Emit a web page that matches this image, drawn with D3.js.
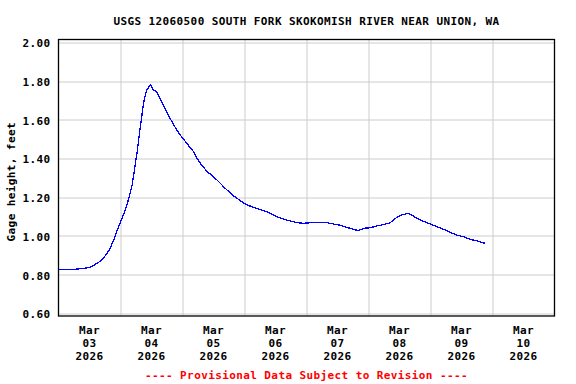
<!DOCTYPE html>
<html>
<head>
<meta charset="utf-8">
<script src="https://cdn.jsdelivr.net/npm/d3@7"></script>
<style>
  body { margin: 0; background: #fff; }
  text { font-family: "DejaVu Sans Mono", monospace; font-weight: bold; font-size: 11px; letter-spacing: 0.4px; }
</style>
</head>
<body>
<div id="chart"></div>
<script>
// hours since Mar 03 2026 00:00 and gage height (feet)
const hours = [0, 6.9, 12.0, 13.9, 15.9, 17.8, 19.7, 21.1, 22.1, 23.0, 24.3, 25.6, 26.5, 27.3, 27.8,
  28.5, 29.1, 29.7, 30.4, 31.0, 31.6, 32.3, 32.9, 33.6, 34.2, 35.5, 36.1, 36.7, 38.0, 39.3,
  40.6, 41.9, 43.2, 44.5, 45.8, 47.1, 48.4, 49.7, 51.0, 52.3, 53.6, 54.9, 56.2, 57.5, 58.7,
  60.0, 61.3, 62.6, 63.9, 65.2, 66.5, 67.8, 69.1, 70.4, 71.6, 72.9, 74.2, 75.5, 76.8, 79.4,
  82.0, 84.6, 87.2, 89.7, 92.3, 94.9, 97.5, 100.0, 103.9, 106.5, 109.0, 111.6, 114.2, 116.1,
  118.1, 120.6, 123.2, 125.8, 128.4, 130.3, 132.3, 134.2, 135.5, 136.8, 138.7, 140.7, 142.6,
  144.6, 146.5, 149.1, 151.7, 154.3, 156.8, 159.4, 162.0, 164.0, 165.2];
const gage = [0.827, 0.828, 0.836, 0.850, 0.867, 0.892, 0.927, 0.970, 1.005, 1.039, 1.082, 1.125, 1.160, 1.200, 1.225,
  1.263, 1.314, 1.370, 1.427, 1.495, 1.556, 1.624, 1.685, 1.728, 1.754, 1.780, 1.771, 1.754, 1.745, 1.711,
  1.676, 1.641, 1.607, 1.576, 1.547, 1.521, 1.500, 1.478, 1.455, 1.435, 1.402, 1.375, 1.354, 1.332, 1.320,
  1.303, 1.289, 1.272, 1.254, 1.237, 1.223, 1.206, 1.194, 1.182, 1.171, 1.160, 1.154, 1.148, 1.142, 1.130,
  1.117, 1.099, 1.086, 1.077, 1.068, 1.065, 1.068, 1.070, 1.068, 1.061, 1.055, 1.044, 1.034, 1.027,
  1.039, 1.042, 1.051, 1.058, 1.068, 1.089, 1.106, 1.113, 1.117, 1.106, 1.092, 1.078, 1.068,
  1.058, 1.047, 1.034, 1.018, 1.003, 0.996, 0.982, 0.974, 0.965, 0.962];

const yTicks = [0.6, 0.8, 1.0, 1.2, 1.4, 1.6, 1.8, 2.0];
const dayLabels = ["03", "04", "05", "06", "07", "08", "09", "10"];

const title = "USGS 12060500 SOUTH FORK SKOKOMISH RIVER NEAR UNION, WA";
const start = new Date(Date.UTC(2026, 2, 3));

const margin = {top: 39.5, right: 21.5, bottom: 68, left: 58.5},
    width = 576 - margin.left - margin.right,
    height = 384 - margin.top - margin.bottom;

const data = hours.map((h, i) => ({t: new Date(start.getTime() + h * 3600e3), v: gage[i]}));

const svg = d3.select("#chart").append("svg")
    .attr("width", 576)
    .attr("height", 384);

const g = svg.append("g")
    .attr("transform", `translate(${margin.left}, ${margin.top})`);

const x = d3.scaleUtc()
    .domain([start, d3.utcDay.offset(start, 8)])
    .range([0, width]);

const y = d3.scaleLinear()
    .domain([0.586, 2.0145])
    .range([height, 0]);

// grid
g.append("g")
    .selectAll("line.h")
    .data(yTicks)
    .join("line")
        .attr("x1", 0).attr("x2", width)
        .attr("y1", d => Math.round(y(d)) + 0.5)
        .attr("y2", d => Math.round(y(d)) + 0.5)
        .attr("stroke", "#cccccc");

g.append("g")
    .selectAll("line.v")
    .data(d3.utcDay.range(d3.utcDay.offset(start, 1), d3.utcDay.offset(start, 8)))
    .join("line")
        .attr("x1", d => Math.round(x(d)) + 0.5)
        .attr("x2", d => Math.round(x(d)) + 0.5)
        .attr("y1", 0).attr("y2", height)
        .attr("stroke", "#cccccc");

// y tick labels
g.append("g")
    .selectAll("text")
    .data(yTicks)
    .join("text")
        .attr("x", -8)
        .attr("y", d => y(d) + 5)
        .attr("text-anchor", "end")
        .text(d => d3.format(".2f")(d));

// x labels at noon of each day
const xl = g.append("g")
    .selectAll("text")
    .data(dayLabels)
    .join("text")
        .attr("text-anchor", "middle")
        .attr("transform", (d, i) => `translate(${x(d3.utcHour.offset(start, 24 * i + 12))}, 0)`);
xl.append("tspan").attr("x", 0).attr("y", height + 17.5).text("Mar");
xl.append("tspan").attr("x", 0).attr("y", height + 31).text(d => d);
xl.append("tspan").attr("x", 0).attr("y", height + 44).text("2026");

// data line
const line = d3.line()
    .x(d => x(d.t))
    .y(d => y(d.v));

g.append("path")
    .datum(data)
    .attr("fill", "none")
    .attr("stroke", "#0000ff")
    .attr("stroke-width", 1.3)
    .attr("shape-rendering", "crispEdges")
    .attr("d", line);

// frame
g.append("rect")
    .attr("width", width)
    .attr("height", height)
    .attr("fill", "none")
    .attr("stroke", "#000")
    .attr("stroke-width", 1.3);

// title and notes
svg.append("text")
    .attr("x", margin.left + width / 2)
    .attr("y", 25)
    .attr("text-anchor", "middle")
    .text(title);

svg.append("text")
    .attr("transform", `translate(15, ${margin.top + height / 2 + 4}) rotate(-90)`)
    .attr("text-anchor", "middle")
    .text("Gage height, feet");

svg.append("text")
    .attr("x", margin.left + width / 2)
    .attr("y", 379)
    .attr("text-anchor", "middle")
    .attr("fill", "#ff0000")
    .text("---- Provisional Data Subject to Revision ----");
</script>
</body>
</html>
